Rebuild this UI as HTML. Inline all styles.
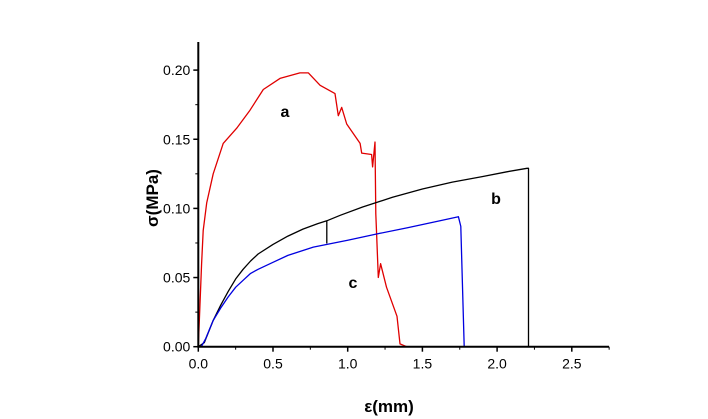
<!DOCTYPE html>
<html><head><meta charset="utf-8"><style>
body{margin:0;background:#fff;}
svg{display:block;font-family:"Liberation Sans",Arial,sans-serif;}
</style></head><body>
<svg id="chart" width="708" height="419"></svg>
<script>
const xTicks=[0,0.5,1.0,1.5,2.0,2.5];
const yTicks=[0,0.05,0.10,0.15,0.20];
const xTickLabels=["0.0","0.5","1.0","1.5","2.0","2.5"];
const yTickLabels=["0.00","0.05","0.10","0.15","0.20"];
const seriesAx=[0,0.022,0.033,0.056,0.1,0.167,0.257,0.346,0.435,0.547,0.68,0.737,0.815,0.915,0.937,0.96,0.993,1.083,1.094,1.16,1.167,1.183,1.188,1.194,1.205,1.22,1.26,1.33,1.35,1.373,1.395];
const seriesAy=[0,0.06,0.084,0.104,0.125,0.147,0.158,0.171,0.186,0.194,0.198,0.198,0.189,0.183,0.167,0.173,0.161,0.147,0.14,0.139,0.13,0.148,0.096,0.08,0.05,0.06,0.043,0.022,0.002,0.001,0];
const seriesBx=[0,0.04,0.1,0.15,0.2,0.25,0.3,0.35,0.4,0.5,0.6,0.7,0.8,0.86,0.86,0.86,0.95,1.1,1.3,1.5,1.7,1.9,2.065,2.2,2.21,2.21,2.3];
const seriesBy=[0,0.003,0.019,0.03,0.04,0.049,0.056,0.062,0.067,0.074,0.08,0.085,0.089,0.091,0.075,0.091,0.095,0.101,0.108,0.114,0.119,0.123,0.1265,0.129,0.129,0,0];
const seriesCx=[0.02,0.05,0.1,0.15,0.2,0.25,0.3,0.35,0.4,0.5,0.6,0.77,1.0,1.217,1.4,1.618,1.741,1.757,1.78,2.0];
const seriesCy=[0,0.006,0.019,0.028,0.036,0.043,0.048,0.053,0.056,0.061,0.066,0.072,0.077,0.082,0.086,0.091,0.094,0.087,0,0];
const X0=198.3,XS=149.4,Y0=346.7,YS=1383;
const sx=v=>X0+v*XS, sy=v=>Y0-v*YS;
const svg=document.getElementById('chart');
const NS='http://www.w3.org/2000/svg';
function mk(t,a){const e=document.createElementNS(NS,t);for(const k in a)e.setAttribute(k,a[k]);svg.appendChild(e);return e;}
function line(xs,ys,c,name){
  const p=mk('polyline',{points:xs.map((x,i)=>sx(x).toFixed(1)+','+sy(ys[i]).toFixed(1)).join(' '),fill:'none',stroke:c,'stroke-width':1.3,'stroke-linejoin':'round'});
  
  
}
line(seriesAx,seriesAy,'#e00000','curve-a');
line(seriesBx,seriesBy,'#000','curve-b');
line(seriesCx,seriesCy,'#0000e0','curve-c');
const ax=mk('line',{x1:X0,y1:42,x2:X0,y2:Y0,stroke:'#000','stroke-width':2});


const xa=mk('line',{x1:X0-1,y1:Y0,x2:609,y2:Y0,stroke:'#000','stroke-width':2});


xTicks.forEach((v,i)=>{
  mk('line',{x1:sx(v),y1:Y0,x2:sx(v),y2:Y0+5,stroke:'#000','stroke-width':1.5});
  mk('line',{x1:sx(v+0.25),y1:Y0,x2:sx(v+0.25),y2:Y0+3,stroke:'#000','stroke-width':1});
  const t=mk('text',{x:sx(v),y:Y0+22,'text-anchor':'middle','font-size':14});
  t.textContent=xTickLabels[i];
  
  
});
yTicks.forEach((v,i)=>{
  mk('line',{x1:X0,y1:sy(v),x2:X0-5,y2:sy(v),stroke:'#000','stroke-width':1.5});
  if(v<0.2) mk('line',{x1:X0,y1:sy(v+0.025),x2:X0-3,y2:sy(v+0.025),stroke:'#000','stroke-width':1});
  const t=mk('text',{x:X0-8,y:sy(v)+5,'text-anchor':'end','font-size':14});
  t.textContent=yTickLabels[i];
  
  
});
function lab(x,y,s,name,extra){const t=mk('text',Object.assign({x:x,y:y,'font-size':16,'font-weight':'bold','text-anchor':'middle'},extra||{}));t.textContent=s;
  
  }
lab(285,117,'a','label-a');
lab(496,204,'b','label-b');
lab(353,288,'c','label-c');
lab(389,412,'ε(mm)','x-axis-title',{'font-size':17});
lab(158,198,'σ(MPa)','y-axis-title',{'font-size':17,transform:'rotate(-90 158 198)'});
</script>
</body></html>
